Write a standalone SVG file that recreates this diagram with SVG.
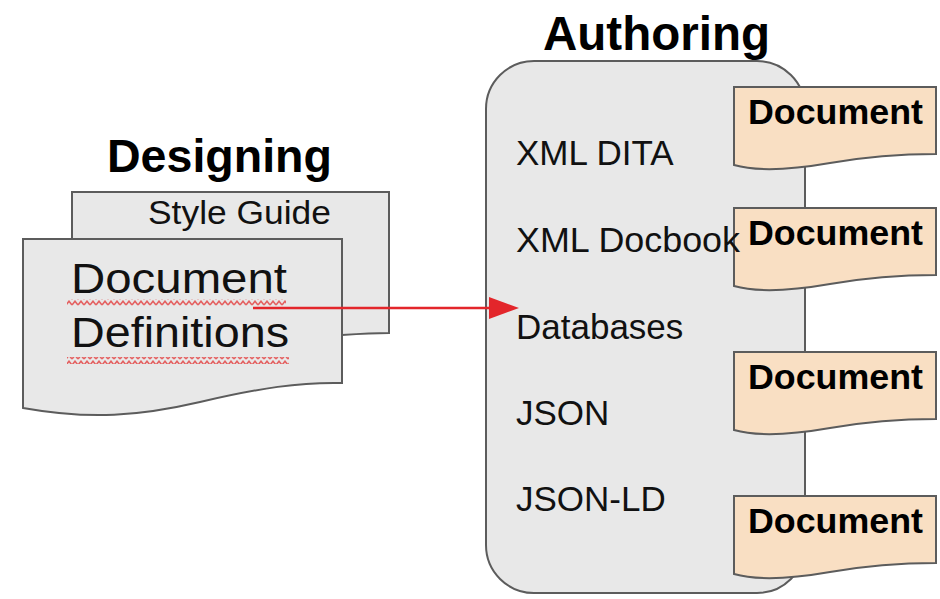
<svg xmlns="http://www.w3.org/2000/svg" width="940" height="599" viewBox="0 0 940 599">
  <style>
    .sheet { fill: #e8e8e8; stroke: #5c5c5c; stroke-width: 2; }
    .doc { fill: #f9dfc3; stroke: #5c5c5c; stroke-width: 2; }
    .heading { font-family: "Liberation Sans", Arial, sans-serif; font-weight: bold; fill: #000; }
    .label { font-family: "Liberation Sans", Arial, sans-serif; fill: #111; }
    .doclabel { font-family: "Liberation Sans", Arial, sans-serif; font-weight: bold; font-size: 35px; fill: #000; }
    .link { stroke: #e3262b; stroke-width: 2.5; fill: none; }
  </style>
  <defs>
    <marker id="arrow" markerUnits="userSpaceOnUse" markerWidth="30" markerHeight="22" refX="0" refY="11" orient="auto">
      <path d="M0,0 L30,11 L0,22 Z" fill="#e3262b"/>
    </marker>
    <pattern id="squiggle" patternUnits="userSpaceOnUse" width="6" height="6">
      <path d="M0,5 L3,1.2 L6,5" fill="none" stroke="#e46262" stroke-width="1.6"/>
    </pattern>
    <path id="docShape" d="M0,0 H202 V67 C166,67 136,69 96,76 C56,83 21,84 0,78 Z"/>
  </defs>

  <!-- Designing stage -->
  <g id="designing-title">
    <text class="heading" x="107" y="172" font-size="47" textLength="225" lengthAdjust="spacingAndGlyphs">Designing</text>
  </g>
  <g id="style-guide">
    <path class="sheet" d="M72,192 H389 V333 C372,333 357,334 342,335 L300,345 H72 Z"/>
    <text class="label" x="148" y="224" font-size="33" textLength="183" lengthAdjust="spacingAndGlyphs">Style Guide</text>
  </g>
  <g id="document-definitions">
    <path class="sheet" d="M23,239 H342 V383 C300,382 260,388 200,402 C140,416 90,420 23,408 Z"/>
    <text class="label" x="71" y="293" font-size="43" textLength="216" lengthAdjust="spacingAndGlyphs">Document</text>
    <rect x="67" y="299" width="219" height="7" fill="url(#squiggle)"/>
    <text class="label" x="71" y="347" font-size="43" textLength="218" lengthAdjust="spacingAndGlyphs">Definitions</text>
    <rect x="67" y="357" width="222" height="7" fill="url(#squiggle)"/>
  </g>

  <!-- Authoring stage -->
  <g id="authoring-title">
    <text class="heading" x="543" y="50" font-size="48" textLength="227" lengthAdjust="spacingAndGlyphs">Authoring</text>
  </g>
  <g id="authoring">
    <rect class="sheet" x="486" y="61" width="319" height="532" rx="48" ry="48"/>
  </g>

  <!-- Output documents -->
  <g id="document-1" transform="translate(734,87)">
    <use href="#docShape" class="doc"/>
    <text class="doclabel" x="14" y="37" textLength="175" lengthAdjust="spacingAndGlyphs">Document</text>
  </g>
  <g id="document-2" transform="translate(734,208)">
    <use href="#docShape" class="doc"/>
    <text class="doclabel" x="14" y="37" textLength="175" lengthAdjust="spacingAndGlyphs">Document</text>
  </g>
  <g id="document-3" transform="translate(734,352)">
    <use href="#docShape" class="doc"/>
    <text class="doclabel" x="14" y="37" textLength="175" lengthAdjust="spacingAndGlyphs">Document</text>
  </g>
  <g id="document-4" transform="translate(734,496)">
    <use href="#docShape" class="doc"/>
    <text class="doclabel" x="14" y="37" textLength="175" lengthAdjust="spacingAndGlyphs">Document</text>
  </g>

  <!-- Authoring formats, drawn above the documents -->
  <g id="authoring-formats">
    <text class="label" x="516" y="165" font-size="35">XML DITA</text>
    <text class="label" x="516" y="252" font-size="35" textLength="224" lengthAdjust="spacingAndGlyphs">XML Docbook</text>
    <text class="label" x="516" y="339" font-size="35">Databases</text>
    <text class="label" x="516" y="425" font-size="35">JSON</text>
    <text class="label" x="516" y="511" font-size="35">JSON-LD</text>
  </g>

  <!-- Connectors -->
  <g id="connectors">
    <line class="link" x1="253" y1="308" x2="489" y2="308" marker-end="url(#arrow)"/>
  </g>
</svg>
